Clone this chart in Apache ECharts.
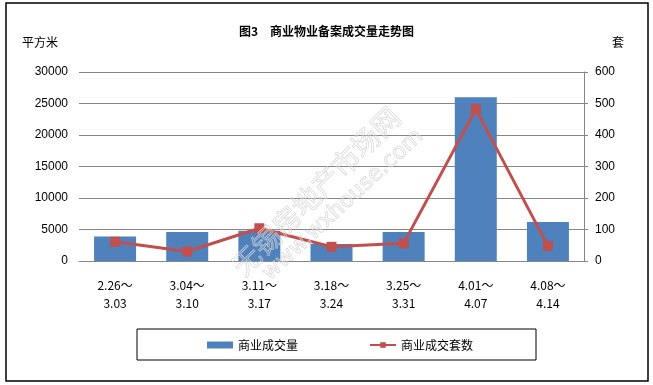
<!DOCTYPE html>
<html><head><meta charset="utf-8">
<script src="https://cdn.jsdelivr.net/npm/echarts@6/dist/echarts.min.js"></script>
<style>html,body{margin:0;padding:0;background:#fff}#c{width:653px;height:385px}</style>
</head><body><div id="c"></div>
<script>
const categories = ['2.26～\n3.03','3.04～\n3.10','3.11～\n3.17','3.18～\n3.24','3.25～\n3.31','4.01～\n4.07','4.08～\n4.14'];
const areaValues = [3900, 4600, 4800, 2700, 4600, 26000, 6200];
const countValues = [61, 30, 104, 45, 56, 482, 48];
const leftTicks = {min: 0, max: 30000, interval: 5000};
const rightTicks = {min: 0, max: 600, interval: 100};

const chart = echarts.init(document.getElementById('c'));
const cjk = "'Noto Sans CJK SC', sans-serif";
chart.setOption({
  animation: false,
  backgroundColor: '#fff',
  title: {
    text: '图3　商业物业备案成交量走势图',
    left: 'center', top: 20,
    textStyle: {fontFamily: cjk, fontSize: 12, fontWeight: 'bold', color: '#000'}
  },
  grid: {left: 79, right: 69, top: 72, bottom: 124, containLabel: false},
  legend: {
    left: 137, top: 329,
    padding: [10, 63, 9, 70],
    borderColor: '#000', borderWidth: 1,
    itemGap: 71, itemWidth: 26, itemHeight: 7,
    textStyle: {fontFamily: cjk, fontSize: 12, color: '#000'},
    data: [{name: '商业成交量', icon: 'rect'}, {name: '商业成交套数'}]
  },
  xAxis: {
    type: 'category', data: categories,
    axisLine: {show: true, lineStyle: {color: '#868686', width: 1}},
    axisTick: {show: false},
    axisLabel: {fontFamily: cjk, fontSize: 12, color: '#000', margin: 15, lineHeight: 18}
  },
  yAxis: [{
    type: 'value', min: leftTicks.min, max: leftTicks.max, interval: leftTicks.interval,
    axisLine: {show: false}, axisTick: {show: false},
    splitLine: {lineStyle: {color: '#868686', width: 1}},
    axisLabel: {fontFamily: 'Arial, Liberation Sans', fontSize: 12, color: '#000', margin: 11, formatter: v => String(v)}
  }, {
    type: 'value', min: rightTicks.min, max: rightTicks.max, interval: rightTicks.interval,
    axisLine: {show: true, lineStyle: {color: '#868686', width: 1}},
    axisTick: {show: true, length: 4, lineStyle: {color: '#868686'}},
    splitLine: {show: false},
    axisLabel: {fontFamily: 'Arial, Liberation Sans', fontSize: 12, color: '#000', margin: 11, formatter: v => String(v)}
  }],
  series: [{
    name: '商业成交量', type: 'bar', data: areaValues, yAxisIndex: 0,
    barWidth: 42, itemStyle: {color: '#4F81BD'}
  }, {
    name: '商业成交套数', type: 'line', data: countValues, yAxisIndex: 1,
    symbol: 'rect', symbolSize: 10,
    lineStyle: {color: '#C0504D', width: 3},
    itemStyle: {color: '#C0504D'}
  }],
  graphic: [
    {type: 'rect', shape: {x: 6, y: 3, width: 642, height: 378}, style: {fill: 'none', stroke: '#000', lineWidth: 1.5}, silent: true},
    {type: 'text', left: 22, top: 36, style: {text: '平方米', font: "12px 'Noto Sans CJK SC'", fill: '#000'}},
    {type: 'text', left: 612, top: 36, style: {text: '套', font: "12px 'Noto Sans CJK SC'", fill: '#000'}},
    {type: 'text', x: 316, y: 191, rotation: Math.PI / 4, z: 100,
      style: {text: '无锡房地产市场网', font: "28px 'Noto Sans CJK SC'", fill: 'rgba(255,255,255,0.2)', stroke: 'rgba(200,200,200,0.75)', lineWidth: 0.8, align: 'center', verticalAlign: 'middle'}},
    {type: 'text', x: 343, y: 205, rotation: Math.PI / 4.2, z: 100,
      style: {text: 'www.wxhouse.com', font: "22px 'DejaVu Sans'", fill: 'rgba(255,255,255,0.2)', stroke: 'rgba(200,200,200,0.75)', lineWidth: 0.8, align: 'center', verticalAlign: 'middle'}}
  ]
});
</script></body></html>
